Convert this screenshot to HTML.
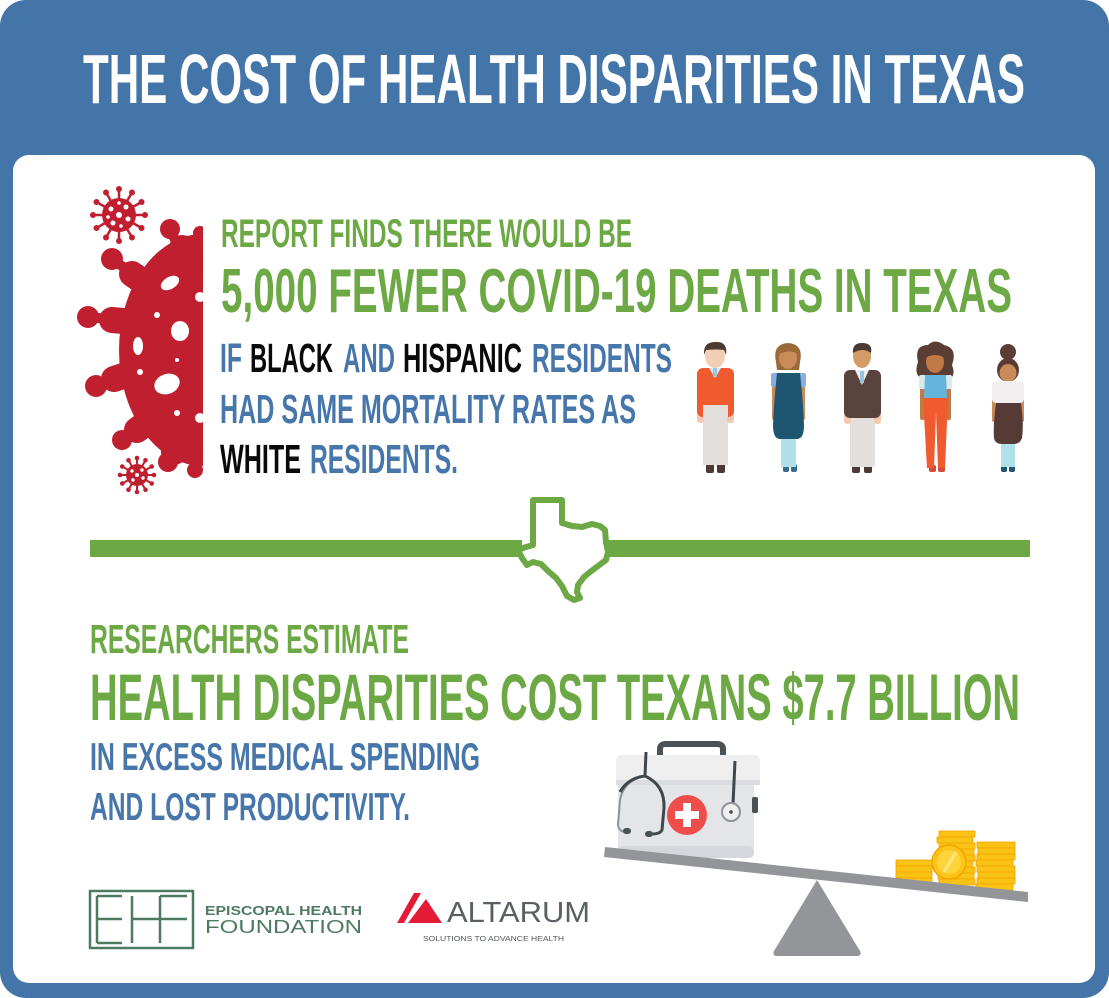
<!DOCTYPE html>
<html>
<head>
<meta charset="utf-8">
<style>
html,body{margin:0;padding:0;background:#ffffff;}
svg{display:block;}
.t{font-family:"Liberation Sans Narrow","Liberation Sans",sans-serif;font-weight:bold;}
.g{fill:#6ca844;}
.b{fill:#4676aa;}
.k{fill:#0a0a0a;}
</style>
</head>
<body>
<svg width="1109" height="998" viewBox="0 0 1109 998" xmlns="http://www.w3.org/2000/svg">
<defs>
  <clipPath id="half"><rect x="0" y="150" width="203" height="400"/></clipPath>
</defs>

<!-- outer frame -->
<rect x="0" y="0" width="1109" height="998" rx="26" fill="#4475a9"/>
<!-- white panel -->
<rect x="13" y="155" width="1082" height="828" rx="16" fill="#ffffff"/>

<!-- Title -->
<text class="t" x="83" y="103" font-size="70" fill="#ffffff" textLength="942" lengthAdjust="spacingAndGlyphs">THE COST OF HEALTH DISPARITIES IN TEXAS</text>

<!-- Big half virus -->
<g clip-path="url(#half)" fill="#c01f30" stroke="#c01f30" stroke-linecap="round">
  <ellipse cx="203" cy="350" rx="84" ry="116" stroke="none"/>
  <!-- tentacle bases (wide) -->
  <g stroke-width="26">
    <line x1="190" y1="262" x2="182" y2="248"/>
    <line x1="155" y1="290" x2="132" y2="274"/>
    <line x1="135" y1="322" x2="112" y2="320"/>
    <line x1="135" y1="372" x2="114" y2="379"/>
    <line x1="150" y1="420" x2="137" y2="430"/>
    <line x1="178" y1="440" x2="174" y2="452"/>
  </g>
  <!-- necks -->
  <g stroke-width="10">
    <line x1="185" y1="258" x2="171" y2="232"/>
    <line x1="200" y1="250" x2="200" y2="234"/>
    <line x1="150" y1="285" x2="113" y2="260"/>
    <line x1="135" y1="322" x2="89" y2="317"/>
    <line x1="135" y1="372" x2="97" y2="386"/>
    <line x1="150" y1="420" x2="123" y2="440"/>
    <line x1="175" y1="440" x2="168" y2="462"/>
    <line x1="196" y1="448" x2="195" y2="468"/>
  </g>
  <g stroke="none">
    <circle cx="170" cy="229" r="10"/>
    <circle cx="200" cy="233" r="7"/>
    <circle cx="112" cy="259" r="11"/>
    <circle cx="88" cy="317" r="11"/>
    <circle cx="96" cy="386" r="11"/>
    <circle cx="122" cy="440" r="10"/>
    <circle cx="168" cy="462" r="10"/>
    <circle cx="195" cy="470" r="8"/>
  </g>
</g>
<!-- holes -->
<g fill="#ffffff">
  <ellipse cx="170" cy="283" rx="10" ry="6" transform="rotate(-30 170 283)"/>
  <circle cx="157" cy="315" r="3"/>
  <ellipse cx="180" cy="331" rx="9" ry="10"/>
  <ellipse cx="138" cy="346" rx="5" ry="9"/>
  <circle cx="177" cy="360" r="2"/>
  <circle cx="140" cy="372" r="3"/>
  <ellipse cx="167" cy="384" rx="13" ry="10" transform="rotate(-20 167 384)"/>
  <circle cx="177" cy="413" r="3"/>
  <circle cx="200" cy="418" r="5"/>
  <circle cx="200" cy="297" r="5"/>
</g>

<!-- small virus top -->
<g transform="translate(119,215)" fill="#c01f30" stroke="#c01f30" stroke-linecap="round">
  <circle r="17" stroke="none"/>
  <g stroke-width="2.5">
    <g><line x1="0" y1="-15" x2="0" y2="-25"/><circle cy="-26" r="3" stroke="none"/></g>
    <g transform="rotate(30)"><line x1="0" y1="-15" x2="0" y2="-25"/><circle cy="-26" r="3" stroke="none"/></g>
    <g transform="rotate(60)"><line x1="0" y1="-15" x2="0" y2="-25"/><circle cy="-26" r="3" stroke="none"/></g>
    <g transform="rotate(90)"><line x1="0" y1="-15" x2="0" y2="-25"/><circle cy="-26" r="3" stroke="none"/></g>
    <g transform="rotate(120)"><line x1="0" y1="-15" x2="0" y2="-25"/><circle cy="-26" r="3" stroke="none"/></g>
    <g transform="rotate(150)"><line x1="0" y1="-15" x2="0" y2="-25"/><circle cy="-26" r="3" stroke="none"/></g>
    <g transform="rotate(180)"><line x1="0" y1="-15" x2="0" y2="-25"/><circle cy="-26" r="3" stroke="none"/></g>
    <g transform="rotate(210)"><line x1="0" y1="-15" x2="0" y2="-25"/><circle cy="-26" r="3" stroke="none"/></g>
    <g transform="rotate(240)"><line x1="0" y1="-15" x2="0" y2="-25"/><circle cy="-26" r="3" stroke="none"/></g>
    <g transform="rotate(270)"><line x1="0" y1="-15" x2="0" y2="-25"/><circle cy="-26" r="3" stroke="none"/></g>
    <g transform="rotate(300)"><line x1="0" y1="-15" x2="0" y2="-25"/><circle cy="-26" r="3" stroke="none"/></g>
    <g transform="rotate(330)"><line x1="0" y1="-15" x2="0" y2="-25"/><circle cy="-26" r="3" stroke="none"/></g>
  </g>
  <g fill="#ffffff" stroke="none">
    <circle cx="0" cy="0" r="3"/><circle cx="-8" cy="-6" r="2.5"/><circle cx="7" cy="-8" r="2.5"/>
    <circle cx="9" cy="4" r="2.5"/><circle cx="-6" cy="8" r="2.5"/><circle cx="2" cy="11" r="1.8"/>
    <circle cx="-11" cy="2" r="1.8"/><circle cx="0" cy="-12" r="1.8"/>
  </g>
</g>

<!-- small virus bottom -->
<g transform="translate(137,475)" fill="#c01f30" stroke="#c01f30" stroke-linecap="round">
  <circle r="11" stroke="none"/>
  <g stroke-width="2">
    <g><line x1="0" y1="-10" x2="0" y2="-16"/><circle cy="-17" r="2.3" stroke="none"/></g>
    <g transform="rotate(30)"><line x1="0" y1="-10" x2="0" y2="-16"/><circle cy="-17" r="2.3" stroke="none"/></g>
    <g transform="rotate(60)"><line x1="0" y1="-10" x2="0" y2="-16"/><circle cy="-17" r="2.3" stroke="none"/></g>
    <g transform="rotate(90)"><line x1="0" y1="-10" x2="0" y2="-16"/><circle cy="-17" r="2.3" stroke="none"/></g>
    <g transform="rotate(120)"><line x1="0" y1="-10" x2="0" y2="-16"/><circle cy="-17" r="2.3" stroke="none"/></g>
    <g transform="rotate(150)"><line x1="0" y1="-10" x2="0" y2="-16"/><circle cy="-17" r="2.3" stroke="none"/></g>
    <g transform="rotate(180)"><line x1="0" y1="-10" x2="0" y2="-16"/><circle cy="-17" r="2.3" stroke="none"/></g>
    <g transform="rotate(210)"><line x1="0" y1="-10" x2="0" y2="-16"/><circle cy="-17" r="2.3" stroke="none"/></g>
    <g transform="rotate(240)"><line x1="0" y1="-10" x2="0" y2="-16"/><circle cy="-17" r="2.3" stroke="none"/></g>
    <g transform="rotate(270)"><line x1="0" y1="-10" x2="0" y2="-16"/><circle cy="-17" r="2.3" stroke="none"/></g>
    <g transform="rotate(300)"><line x1="0" y1="-10" x2="0" y2="-16"/><circle cy="-17" r="2.3" stroke="none"/></g>
    <g transform="rotate(330)"><line x1="0" y1="-10" x2="0" y2="-16"/><circle cy="-17" r="2.3" stroke="none"/></g>
  </g>
  <g fill="#ffffff" stroke="none">
    <circle cx="0" cy="0" r="2"/><circle cx="-5" cy="-4" r="1.7"/><circle cx="5" cy="-5" r="1.7"/>
    <circle cx="6" cy="3" r="1.7"/><circle cx="-4" cy="5" r="1.7"/>
  </g>
</g>

<!-- Top text block -->
<text class="t g" x="221" y="247" font-size="40" textLength="411" lengthAdjust="spacingAndGlyphs">REPORT FINDS THERE WOULD BE</text>
<text class="t g" x="221" y="312" font-size="62" textLength="791" lengthAdjust="spacingAndGlyphs">5,000 FEWER COVID-19 DEATHS IN TEXAS</text>

<text class="t b" x="220" y="372" font-size="41" textLength="22" lengthAdjust="spacingAndGlyphs">IF</text>
<text class="t k" x="250" y="372" font-size="41" textLength="83" lengthAdjust="spacingAndGlyphs">BLACK</text>
<text class="t b" x="343" y="372" font-size="41" textLength="52" lengthAdjust="spacingAndGlyphs">AND</text>
<text class="t k" x="403" y="372" font-size="41" textLength="119" lengthAdjust="spacingAndGlyphs">HISPANIC</text>
<text class="t b" x="532" y="372" font-size="41" textLength="140" lengthAdjust="spacingAndGlyphs">RESIDENTS</text>

<text class="t b" x="220" y="423" font-size="41" textLength="416" lengthAdjust="spacingAndGlyphs">HAD SAME MORTALITY RATES AS</text>

<text class="t k" x="220" y="473" font-size="41" textLength="81" lengthAdjust="spacingAndGlyphs">WHITE</text>
<text class="t b" x="310" y="473" font-size="41" textLength="148" lengthAdjust="spacingAndGlyphs">RESIDENTS.</text>

<!-- People -->
<!-- Person 1 -->
<g>
  <rect x="706" y="462" width="8" height="11" rx="2" fill="#4b3a33"/>
  <rect x="717" y="462" width="8" height="11" rx="2" fill="#4b3a33"/>
  <rect x="703" y="405" width="25" height="60" fill="#e2dfdc"/>
  <rect x="697" y="410" width="7" height="13" rx="3" fill="#f2c9ae"/>
  <rect x="727" y="410" width="7" height="13" rx="3" fill="#f2c9ae"/>
  <rect x="697" y="368" width="37" height="49" rx="6" fill="#ef5a2e"/>
  <rect x="703" y="405" width="25" height="12" fill="#e2dfdc"/>
  <polygon points="709,368 721,368 715,378" fill="#dce8f2"/>
  <rect x="713" y="368" width="4" height="9" fill="#9cc3e0"/>
  <ellipse cx="715" cy="356" rx="10" ry="12" fill="#f2cfb4"/>
  <path d="M704,355 Q703,342 715,342 Q728,341 726,355 L724,350 Q716,349 706,350 Z" fill="#4b3a33"/>
</g>
<!-- Person 2 -->
<g>
  <rect x="783" y="464" width="6" height="8" rx="2" fill="#3a6a8c"/>
  <rect x="791" y="464" width="6" height="8" rx="2" fill="#3a6a8c"/>
  <rect x="781" y="435" width="15" height="32" fill="#b1e0ea"/>
  <rect x="772" y="380" width="5" height="40" rx="2" fill="#c98b5a"/>
  <rect x="800" y="380" width="5" height="40" rx="2" fill="#c98b5a"/>
  <rect x="771" y="373" width="7" height="14" rx="2" fill="#8aaee0"/>
  <rect x="799" y="373" width="7" height="14" rx="2" fill="#8aaee0"/>
  <path d="M777,373 L800,373 Q803,400 804,425 Q804,439 797,439 L780,439 Q773,439 773,425 Q774,400 777,373 Z" fill="#1e5570"/>
  <path d="M776,362 Q772,344 788,343 Q804,344 800,362 L799,370 L777,370 Z" fill="#9a6a3a"/>
  <ellipse cx="788" cy="358" rx="9" ry="11" fill="#c98b5a"/>
  <path d="M779,354 Q781,345 789,346 Q797,347 798,354 Q790,349 779,354 Z" fill="#9a6a3a"/>
</g>
<!-- Person 3 -->
<g>
  <rect x="852" y="464" width="8" height="9" rx="2" fill="#4b3a33"/>
  <rect x="864" y="464" width="8" height="9" rx="2" fill="#4b3a33"/>
  <rect x="850" y="410" width="25" height="57" fill="#e2dfdc"/>
  <rect x="844" y="412" width="7" height="12" rx="3" fill="#f2c9ae"/>
  <rect x="874" y="412" width="7" height="12" rx="3" fill="#f2c9ae"/>
  <rect x="844" y="370" width="37" height="48" rx="6" fill="#5a433c"/>
  <polygon points="855,370 869,370 862,385" fill="#eeeeee"/>
  <rect x="860" y="371" width="4" height="12" fill="#9cc3e0"/>
  <ellipse cx="862" cy="356" rx="9" ry="12" fill="#d39b66"/>
  <path d="M853,353 Q852,343 862,343 Q873,343 871,353 Q863,347 853,353 Z" fill="#4b3a33"/>
</g>
<!-- Person 4 -->
<g>
  <path d="M918,362 Q914,345 928,345 Q935,338 944,345 Q958,348 952,365 Q957,378 946,380 L924,380 Q913,376 918,362 Z" fill="#5a3d33"/>
  <rect x="929" y="465" width="7" height="7" rx="2" fill="#d34b3a"/>
  <rect x="938" y="465" width="7" height="7" rx="2" fill="#d34b3a"/>
  <rect x="920" y="378" width="5" height="42" rx="2" fill="#c07a48"/>
  <rect x="946" y="378" width="5" height="42" rx="2" fill="#c07a48"/>
  <rect x="919" y="375" width="7" height="14" rx="2" fill="#dbe8ef"/>
  <rect x="945" y="375" width="7" height="14" rx="2" fill="#dbe8ef"/>
  <path d="M925,375 L946,375 L947,398 L924,398 Z" fill="#63b5dc"/>
  <path d="M923,398 L948,398 L945,468 L938,468 L936,412 L934,468 L927,468 Z" fill="#ef5a2e"/>
  <ellipse cx="935" cy="362" rx="9" ry="11" fill="#c07a48"/>
  <path d="M925,358 Q927,348 935,349 Q944,349 945,358 Q935,352 925,358 Z" fill="#5a3d33"/>
</g>
<!-- Person 5 -->
<g>
  <circle cx="1008" cy="352" r="8" fill="#5a3d33"/>
  <ellipse cx="1008" cy="370" rx="11" ry="12" fill="#5a3d33"/>
  <ellipse cx="1008" cy="373" rx="8.5" ry="9" fill="#c98b5a"/>
  <rect x="1001" y="465" width="6" height="7" rx="2" fill="#1e5570"/>
  <rect x="1009" y="465" width="6" height="7" rx="2" fill="#1e5570"/>
  <rect x="1001" y="440" width="14" height="27" fill="#b1e0ea"/>
  <rect x="992" y="385" width="5" height="37" rx="2" fill="#c98b5a"/>
  <rect x="1019" y="385" width="5" height="37" rx="2" fill="#c98b5a"/>
  <rect x="992" y="381" width="32" height="22" rx="4" fill="#f1efef"/>
  <path d="M996,403 L1021,403 Q1024,425 1022,438 Q1020,444 1014,444 L1002,444 Q995,444 994,438 Q993,425 996,403 Z" fill="#553a35"/>
</g>

<!-- Divider with Texas -->
<rect x="90" y="540" width="432" height="17" fill="#6ca844"/>
<rect x="604" y="540" width="426" height="17" fill="#6ca844"/>
<path d="M533,500 L562,500 L562,523 L572,526 L582,527 L592,524 L600,526 L605,530 L606,542 L608,552 L606,560 L598,566 L590,572 L584,577 L578,585 L577,592 L580,598 L574,600 L567,596 L562,586 L556,578 L548,571 L541,564 L533,562 L527,565 L522,558 L518,550 L526,547 L533,545 Z" fill="#ffffff" stroke="#6ca844" stroke-width="6" stroke-linejoin="round"/>

<!-- Bottom text block -->
<text class="t g" x="90" y="653" font-size="41" textLength="319" lengthAdjust="spacingAndGlyphs">RESEARCHERS ESTIMATE</text>
<text class="t g" x="90" y="720" font-size="66" textLength="930" lengthAdjust="spacingAndGlyphs">HEALTH DISPARITIES COST TEXANS $7.7 BILLION</text>
<text class="t b" x="90" y="770" font-size="39" textLength="390" lengthAdjust="spacingAndGlyphs">IN EXCESS MEDICAL SPENDING</text>
<text class="t b" x="90" y="820" font-size="39" textLength="320" lengthAdjust="spacingAndGlyphs">AND LOST PRODUCTIVITY.</text>

<!-- Medical kit -->
<g>
  <path d="M660,758 L660,749 Q660,744 666,744 L717,744 Q723,744 723,749 L723,758" fill="none" stroke="#4a5257" stroke-width="6"/>
  <rect x="618" y="772" width="136" height="86" rx="6" fill="#e4e5e8"/>
  <rect x="618" y="846" width="136" height="12" rx="5" fill="#d6d7dc"/>
  <rect x="752" y="797" width="6" height="16" rx="2" fill="#4a5257"/>
  <rect x="616" y="755" width="144" height="30" rx="6" fill="#efefef"/>
  <rect x="616" y="780" width="144" height="5" fill="#dcdde2"/>
  <circle cx="687" cy="815" r="20" fill="#ef4d4a"/>
  <rect x="683" y="803" width="8" height="24" fill="#ffffff"/>
  <rect x="675" y="811" width="24" height="8" fill="#ffffff"/>
  <!-- stethoscope -->
  <path d="M646,752 L645,776" stroke="#3f474d" stroke-width="3" fill="none"/>
  <path d="M645,776 Q624,780 620,800 L618,825 Q619,832 626,832" stroke="#8e9399" stroke-width="2" fill="none"/>
  <path d="M645,776 Q665,785 664,808 L662,830 Q660,834 652,834" stroke="#3f474d" stroke-width="3" fill="none"/>
  <path d="M620,792 Q628,778 645,776" stroke="#3f474d" stroke-width="3" fill="none"/>
  <rect x="623" y="828" width="8" height="6" rx="3" fill="#4a5257"/>
  <rect x="645" y="831" width="8" height="6" rx="3" fill="#4a5257"/>
  <path d="M735,761 L733,804" stroke="#3f474d" stroke-width="3" fill="none"/>
  <circle cx="731" cy="812" r="9" fill="#eeeeee" stroke="#8e9399" stroke-width="2"/>
  <circle cx="731" cy="812" r="1.8" fill="#3f474d"/>
</g>

<!-- Coins -->
<g>
  <g fill="#f9c316" stroke="#f0a400" stroke-width="0.8">
    <rect x="896" y="860" width="36" height="6"/>
    <rect x="896" y="866" width="36" height="6"/>
    <rect x="896" y="872" width="36" height="6"/>
    <rect x="896" y="878" width="36" height="6"/>
    <rect x="939" y="831" width="36" height="6"/>
    <rect x="937" y="837" width="36" height="6"/>
    <rect x="939" y="843" width="36" height="6"/>
    <rect x="938" y="849" width="36" height="6"/>
    <rect x="939" y="855" width="36" height="6"/>
    <rect x="937" y="861" width="36" height="6"/>
    <rect x="939" y="867" width="36" height="6"/>
    <rect x="938" y="873" width="36" height="6"/>
    <rect x="939" y="879" width="36" height="6"/>
    <rect x="977" y="842" width="38" height="6"/>
    <rect x="978" y="848" width="37" height="6"/>
    <rect x="977" y="854" width="38" height="6"/>
    <rect x="976" y="860" width="37" height="6"/>
    <rect x="977" y="866" width="38" height="6"/>
    <rect x="978" y="872" width="37" height="6"/>
    <rect x="977" y="878" width="38" height="6"/>
    <rect x="976" y="884" width="37" height="6"/>
  </g>
  <circle cx="949" cy="862" r="17" fill="#fcc419" stroke="#f0a400" stroke-width="1.5"/>
  <circle cx="949" cy="862" r="12" fill="#ffd43b"/>
  <line x1="944" y1="872" x2="956" y2="852" stroke="#ffe680" stroke-width="3"/>
</g>

<!-- Seesaw -->
<polygon points="605,847 1028,892 1028,902 604,857" fill="#939598"/>
<path d="M817,880 L860,951 Q862,956 857,956 L777,956 Q772,956 774,951 Z" fill="#939598"/>

<!-- EHF logo -->
<g stroke="#4f7a62" fill="none" stroke-width="2.5">
  <rect x="90" y="891" width="103" height="57"/>
  <line x1="97" y1="896" x2="97" y2="943"/>
  <line x1="97" y1="896" x2="122" y2="896"/>
  <line x1="97" y1="919" x2="122" y2="919"/>
  <line x1="97" y1="943" x2="122" y2="943"/>
  <line x1="132" y1="896" x2="132" y2="943"/>
  <line x1="132" y1="919" x2="187" y2="919"/>
  <line x1="160" y1="896" x2="160" y2="943"/>
  <line x1="160" y1="896" x2="187" y2="896"/>
</g>
<text x="205" y="915" font-family="Liberation Sans, sans-serif" font-weight="bold" font-size="12.5" fill="#4f7a62" textLength="157" lengthAdjust="spacingAndGlyphs">EPISCOPAL HEALTH</text>
<text x="205" y="933" font-family="Liberation Sans, sans-serif" font-size="18" fill="#4f7a62" textLength="157" lengthAdjust="spacingAndGlyphs">FOUNDATION</text>

<!-- Altarum logo -->
<polygon points="397,923 414,893 421,893 404,923" fill="#e31b36"/>
<polygon points="408,923 426,899 442,923" fill="#e31b36"/>
<text x="447" y="922" font-family="Liberation Sans, sans-serif" font-size="29" fill="#5a5f63" textLength="143" lengthAdjust="spacingAndGlyphs">ALTARUM</text>
<text x="423" y="941" font-family="Liberation Sans, sans-serif" font-size="7" fill="#555a5e" textLength="141" lengthAdjust="spacingAndGlyphs">SOLUTIONS TO ADVANCE HEALTH</text>
</svg>
</body>
</html>
